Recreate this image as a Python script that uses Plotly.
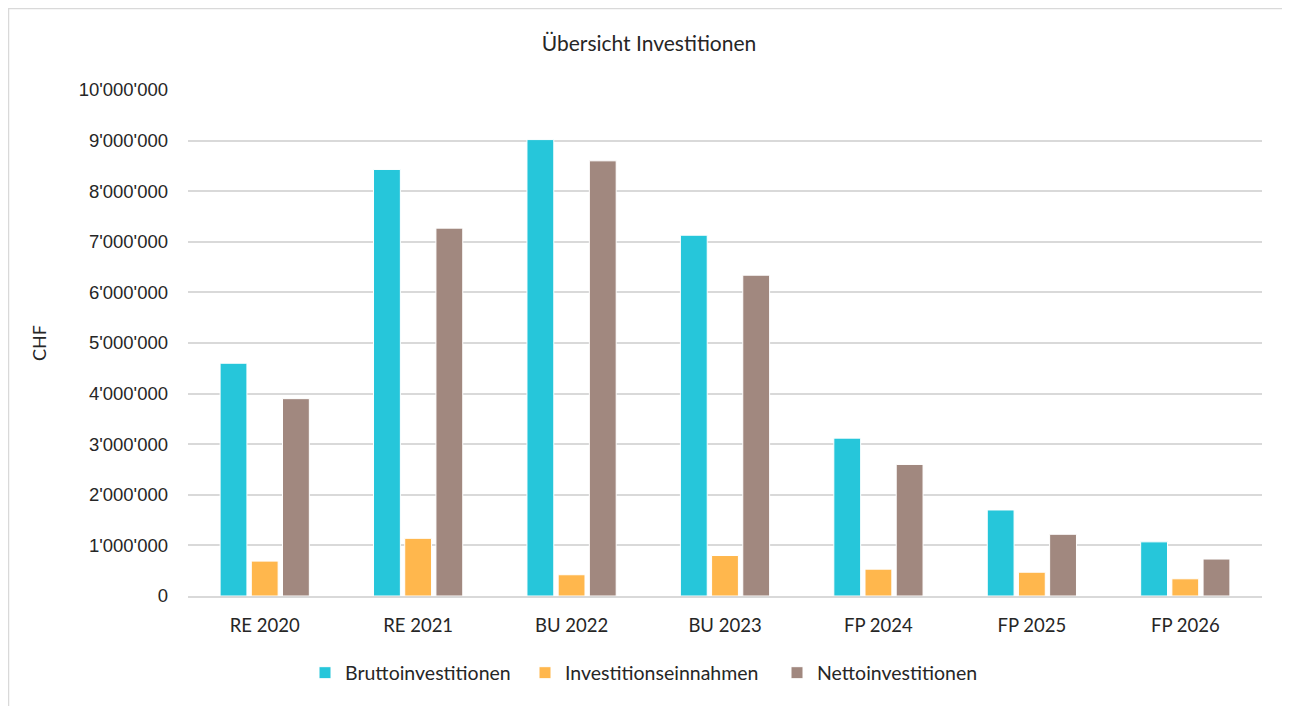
import plotly.graph_objects as go

categories = ["RE 2020", "RE 2021", "BU 2022", "BU 2023", "FP 2024", "FP 2025", "FP 2026"]
brutto = [4600000, 8430000, 9020000, 7130000, 3120000, 1700000, 1070000]
einnahmen = [690000, 1140000, 420000, 800000, 530000, 470000, 340000]
netto = [3900000, 7270000, 8600000, 6340000, 2600000, 1220000, 730000]

series_names = ["Bruttoinvestitionen", "Investitionseinnahmen", "Nettoinvestitionen"]
colors = ["#26C6DA", "#FFB74D", "#A1887F"]
legend_ids = ["legend", "legend2", "legend3"]

FONT = "Lato, 'Open Sans', sans-serif"
YFONT = "'Liberation Sans', Arial, sans-serif"
TXT = "#262626"

fig = go.Figure()
for name, vals, col, lg in zip(series_names, [brutto, einnahmen, netto], colors, legend_ids):
    fig.add_trace(go.Bar(
        x=categories, y=vals, name=name, legend=lg,
        marker=dict(color=col, line=dict(color="white", width=1)),
    ))

# page has an 8px body margin, so figure coordinates are page - 8
W, H = 1282, 698
ml, mr, mt, mb = 180, 28, 82, 110
pw, ph = W - ml - mr, H - mt - mb

def px_x(x):
    return (x - ml) / pw

def px_y(y):
    return (H - mb - y) / ph

# legend text starts (page px) in the reference: 345, 565, 817
legend_text_x = [345 - 8, 565 - 8, 817 - 8]

def legend_cfg(tx):
    return dict(orientation="h", x=px_x(tx - 40), xanchor="left",
                y=px_y(665), yanchor="middle",
                font=dict(family=FONT, size=19.5, color=TXT),
                itemwidth=30, bgcolor="rgba(0,0,0,0)")

fig.update_layout(
    width=W, height=H,
    margin=dict(l=ml, r=mr, t=mt, b=mb),
    paper_bgcolor="white", plot_bgcolor="white",
    separators=".'",
    barmode="group", bargap=0.39, bargroupgap=0.14,
    font=dict(family=FONT, size=18, color=TXT),
    title=dict(text="Übersicht Investitionen", x=0.5, xanchor="center",
               y=1 - 36 / H, yanchor="middle",
               font=dict(family=FONT, size=21, color=TXT)),
    legend=legend_cfg(legend_text_x[0]),
    legend2=legend_cfg(legend_text_x[1]),
    legend3=legend_cfg(legend_text_x[2]),
    showlegend=True,
    xaxis=dict(showgrid=False, showline=True, linecolor="#D9D9D9", linewidth=1.5,
               ticks="", ticklabelstandoff=12,
               tickfont=dict(family=FONT, size=18.5, color=TXT)),
    yaxis=dict(range=[0, 10000000], dtick=1000000, tickformat=",d",
               showgrid=True, gridcolor="#D9D9D9", gridwidth=1.5,
               zeroline=False, showline=False, ticks="", ticklabelstandoff=19,
               tickfont=dict(family=YFONT, size=18.5, color=TXT),
               title=dict(text="CHF", standoff=27,
                          font=dict(family=FONT, size=18, color=TXT))),
    shapes=[dict(type="rect", xref="paper", yref="paper",
                 x0=px_x(0.5), x1=px_x(1277), y0=px_y(704), y1=px_y(0.5),
                 line=dict(color="#D9D9D9", width=1.5), fillcolor="rgba(0,0,0,0)",
                 layer="below")],
)

fig.write_html("out.html")
